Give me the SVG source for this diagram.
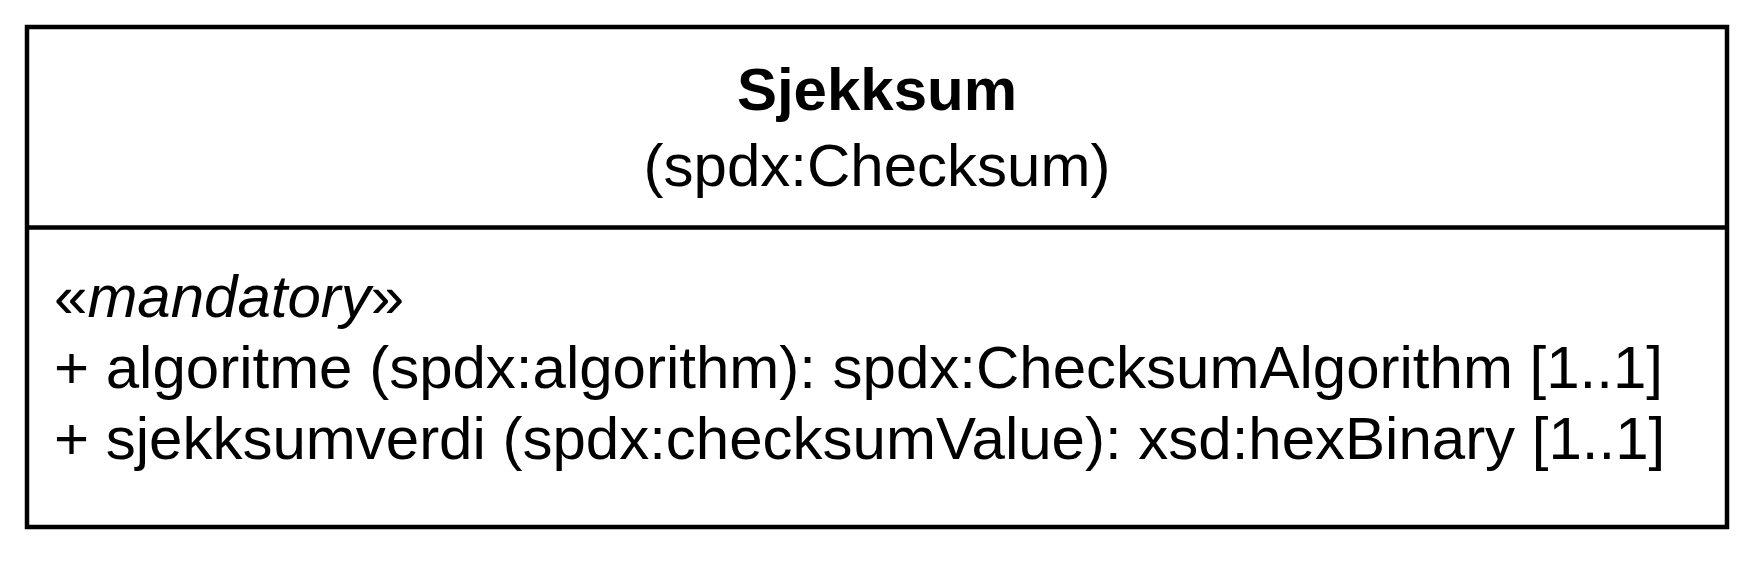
<svg xmlns="http://www.w3.org/2000/svg" width="1755" height="570" viewBox="0 0 1755 570">
<style>
.box{fill:#ffffff;stroke:#000000;stroke-width:4.5}
.div{stroke:#000000;stroke-width:4.5}
.t{font-family:"Liberation Sans",Arial,sans-serif;font-size:60px;fill:#000000}
.b{font-weight:bold}
.i{font-style:italic}
</style>
<rect width="1755" height="570" fill="#ffffff"/>
<g id="node-sjekksum">
<rect class="box" x="27" y="27" width="1700" height="500"/>
<line class="div" x1="27" y1="227.5" x2="1727" y2="227.5"/>
<text class="t b" x="877" y="110" text-anchor="middle">Sjekksum</text>
<text class="t" x="877" y="186" text-anchor="middle">(spdx:Checksum)</text>
<text class="t" x="54" y="317">«<tspan class="i">mandatory</tspan>»</text>
<text class="t" x="54" y="388">+ algoritme (spdx:algorithm): spdx:ChecksumAlgorithm [1..1]</text>
<text class="t" x="54" y="459">+ sjekksumverdi (spdx:checksumValue): xsd:hexBinary [1..1]</text>
</g>
<g id="connectors"></g>
</svg>
